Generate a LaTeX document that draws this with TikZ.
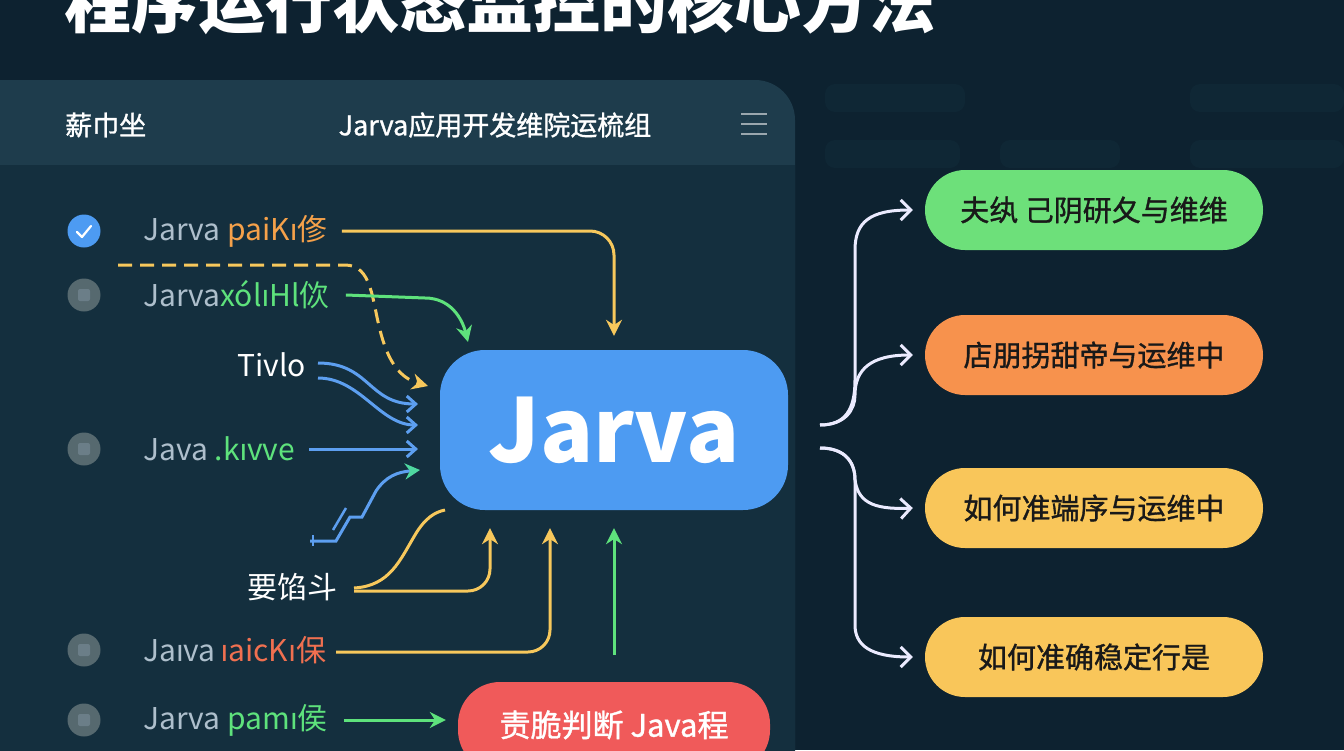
\documentclass[tikz,border=0pt]{standalone}
\usepackage{fontspec}
\setmainfont{Noto Sans CJK SC}
\newfontfamily\lat{Noto Sans}
\newfontfamily\cjkm[FakeBold=1.1]{Noto Sans CJK SC}
\usetikzlibrary{arrows.meta,calc}
\definecolor{bg}{HTML}{0D2230}
\definecolor{panelbody}{HTML}{142F3E}
\definecolor{panelhead}{HTML}{1E3C4C}
\definecolor{jblue}{HTML}{4D9BF2}
\definecolor{lblue}{HTML}{5D9FF0}
\definecolor{jgreen}{HTML}{5EE27C}
\definecolor{jyellow}{HTML}{F7C85C}
\definecolor{jorange}{HTML}{F5A14A}
\definecolor{jred}{HTML}{F05A5A}
\definecolor{jredtxt}{HTML}{F07050}
\definecolor{jgray}{HTML}{AEBFCC}
\definecolor{dotgray}{HTML}{56696F}
\definecolor{dotin}{HTML}{6B7E88}
\definecolor{bgreen}{HTML}{6DE07A}
\definecolor{borange}{HTML}{F7924D}
\definecolor{byellow}{HTML}{F9C65A}
\definecolor{ghost}{HTML}{0F2735}
\definecolor{teal}{HTML}{4FD8A0}
\begin{document}
\begin{tikzpicture}[x=1pt,y=-1pt,
  lbl/.style={anchor=west,inner sep=0pt,font=\fontsize{30}{34}\selectfont},
  wlbl/.style={anchor=east,inner sep=0pt,text=white,font=\fontsize{30}{34}\selectfont},
  dotc/.style={circle,fill=dotgray,minimum size=33pt,inner sep=0pt},
  pill/.style={rounded corners=40pt,minimum width=338pt,minimum height=80pt,inner sep=0pt,text=black!90,font=\cjkm\fontsize{29}{33}\selectfont},
  yline/.style={draw=jyellow,line width=3pt,-{Stealth[length=16pt,width=16pt]}},
  gline/.style={draw=jgreen,line width=3pt,-{Stealth[length=16pt,width=16pt]}},
  bline/.style={draw=lblue,line width=3pt,-{Straight Barb[length=9pt,width=16pt,line width=3pt]}},
  wline/.style={draw=white!92!blue,line width=3pt,-{Straight Barb[length=10pt,width=20pt,line width=3pt]}}
]
\useasboundingbox (0,0) rectangle (1344,750);
\clip (0,0) rectangle (1344,750);
\fill[bg] (0,0) rectangle (1344,750);
% ghost shapes on the right
\fill[ghost,rounded corners=10pt] (825,84) rectangle (965,112);
\fill[ghost,rounded corners=10pt] (1190,84) rectangle (1344,112);
\fill[ghost,rounded corners=10pt] (825,140) rectangle (960,168);
\fill[ghost,rounded corners=10pt] (1000,140) rectangle (1120,168);
\fill[ghost,rounded corners=10pt] (1190,140) rectangle (1344,168);

% title
\node[text=white,font=\fontsize{67}{70}\selectfont\bfseries,anchor=center,inner sep=0pt] (title) at (500,2) {程序运行状态监控的核心方法};

% panel
\fill[panelhead,rounded corners=40pt] (-60,80) rectangle (795,820);
\fill[panelbody] (-60,165) rectangle (795,820);
\node[text=white,font=\cjkm\fontsize{27}{30}\selectfont,anchor=west,inner sep=0pt] (hleft) at (65,125) {薪巾坐};
\node[text=white,font=\cjkm\fontsize{27}{30}\selectfont,anchor=center,inner sep=0pt] (htitle) at (495,125) {Jarva应用开发维院运梳组};
\node[inner sep=0pt,minimum width=28pt,minimum height=22pt] (menu) at (754,124) {};
\foreach \yy in {114,124,134}{\draw[draw=white!55!panelhead,line width=2.5pt] (741,\yy) -- (767,\yy);}

% list items
\node[circle,fill=jblue,minimum size=33pt,inner sep=0pt] (c1) at (84,231) {};
\draw[white,line width=2.2pt,line cap=round,line join=round] (77,232) -- (82,237) -- (91,226);
\node[lbl] (l1) at (143,231) {\textcolor{jgray}{Jarva} \textcolor{jorange}{paiK{\lat ı}俢}};

\node[dotc] (c2) at (84,295) {};
\fill[dotin,rounded corners=2pt] (78,289) rectangle (90,301);
\node[lbl] (l2) at (143,295) {\textcolor{jgray}{Jarva}\textcolor{jgreen}{xól{\lat ı}Hl佽}};

\node[wlbl] (l3) at (306,365) {Tivlo};

\node[dotc] (c4) at (84,449) {};
\fill[dotin,rounded corners=2pt] (78,443) rectangle (90,455);
\node[lbl] (l4) at (143,449) {\textcolor{jgray}{Java} \textcolor{jgreen}{.k{\lat ı}vve}};

\node[wlbl] (l5) at (338,587) {要馅斗};

\node[dotc] (c6) at (84,650) {};
\fill[dotin,rounded corners=2pt] (78,644) rectangle (90,656);
\node[lbl] (l6) at (143,650) {\textcolor{jgray}{Ja{\lat ı}va}\,\textcolor{jredtxt}{{\lat ı}aicK{\lat ı}保}};

\node[dotc] (c7) at (84,720) {};
\fill[dotin,rounded corners=2pt] (78,714) rectangle (90,726);
\node[lbl] (l7) at (143,720) {\textcolor{jgray}{Jarva} \textcolor{jgreen}{pam{\lat ı}侯}};

% central and bottom boxes
\node[fill=jblue,rounded corners=45pt,minimum width=348pt,minimum height=160pt,text=white,font=\fontsize{88}{92}\selectfont\bfseries] (jarva) at (614,430) {Jarva};
\node[fill=jred,rounded corners=42pt,minimum width=312pt,minimum height=90pt,text=white,font=\cjkm\fontsize{31}{34}\selectfont] (red) at (614,727) {\raisebox{7pt}{责脆判断 Java程}};

% right boxes
\node[pill,fill=bgreen] (b1) at (1094,210) {夫纨 己阴研夂与维维};
\node[pill,fill=borange] (b2) at (1094,355) {店朋拐甜帝与运维中};
\node[pill,fill=byellow] (b3) at (1094,508) {如何准端序与运维中};
\node[pill,fill=byellow] (b4) at (1094,657) {如何准确稳定行是};

% connectors into Jarva
\coordinate (d0) at (118,265);
\draw[yline,rounded corners=24pt] ([xshift=14pt]l1.east) -| ([yshift=14pt]jarva.north);
\draw[draw=jyellow,line width=3pt,dash pattern=on 14pt off 8pt,-{Stealth[length=16pt,width=16pt]}]
  (d0) -- (345,265) .. controls (372,265) and (372,300) .. (380,330) .. controls (388,362) and (400,378) .. (428,386);
\draw[gline] ([xshift=16pt]l2.east) -- (425,298) .. controls (450,298) and (462,318) .. (468,342);
\draw[bline] ([xshift=12pt,yshift=2pt]l3.east) .. controls (370,363) and (368,404) .. (418,404);
\draw[bline] ([xshift=12pt,yshift=-13pt]l3.east) .. controls (360,378) and (380,425) .. (418,425);
\draw[bline] ([xshift=14pt]l4.east) -- (418,449);
\coordinate (z0) at (310,541);
\draw[draw=lblue,line width=3pt,-{Stealth[length=15pt,width=16pt,color=teal]}]
  (z0) -- (336,541) -- (350,517) -- (362,517) -- (376,491) .. controls (386,476) and (398,472) .. (420,470);
\draw[draw=lblue,line width=2.5pt] (313,535) -- (313,546);
\draw[draw=lblue,line width=2.5pt] (333,530) -- (346,508);
\coordinate (ye) at (445,510);
\draw[draw=jyellow,line width=3pt] ([xshift=16pt,yshift=-1pt]l5.east) .. controls (390,586) and (400,560) .. (415,535) .. controls (425,518) and (435,512) .. (ye);
\draw[yline,rounded corners=22pt] ([xshift=16pt,yshift=-4pt]l5.east) -| ([xshift=-124pt,yshift=-18pt]jarva.south);
\draw[yline,rounded corners=22pt] ([xshift=10pt,yshift=-2pt]l6.east) -| ([xshift=-64pt,yshift=-18pt]jarva.south);
\draw[gline] ([yshift=27pt]red.north) -- ([yshift=-18pt]jarva.south);
\draw[gline] ([xshift=16pt]l7.east) -- ([xshift=-12pt,yshift=7pt]red.west);

% right connectors
\coordinate (r0) at (820,425);
\coordinate (r1) at (820,448);
\draw[wline] (r0) .. controls (845,425) and (855,410) .. (855,380) -- (855,250) .. controls (855,222) and (870,210) .. ([xshift=-12pt]b1.west);
\draw[wline] (r0) .. controls (845,425) and (855,410) .. (855,395) .. controls (855,370) and (870,355) .. ([xshift=-12pt]b2.west);
\draw[wline] (r1) .. controls (845,448) and (855,462) .. (855,480) .. controls (858,500) and (870,510) .. ([xshift=-12pt]b3.west);
\draw[wline] (r1) .. controls (845,448) and (855,462) .. (855,480) -- (855,625) .. controls (855,645) and (870,657) .. ([xshift=-12pt]b4.west);
\end{tikzpicture}
\end{document}
